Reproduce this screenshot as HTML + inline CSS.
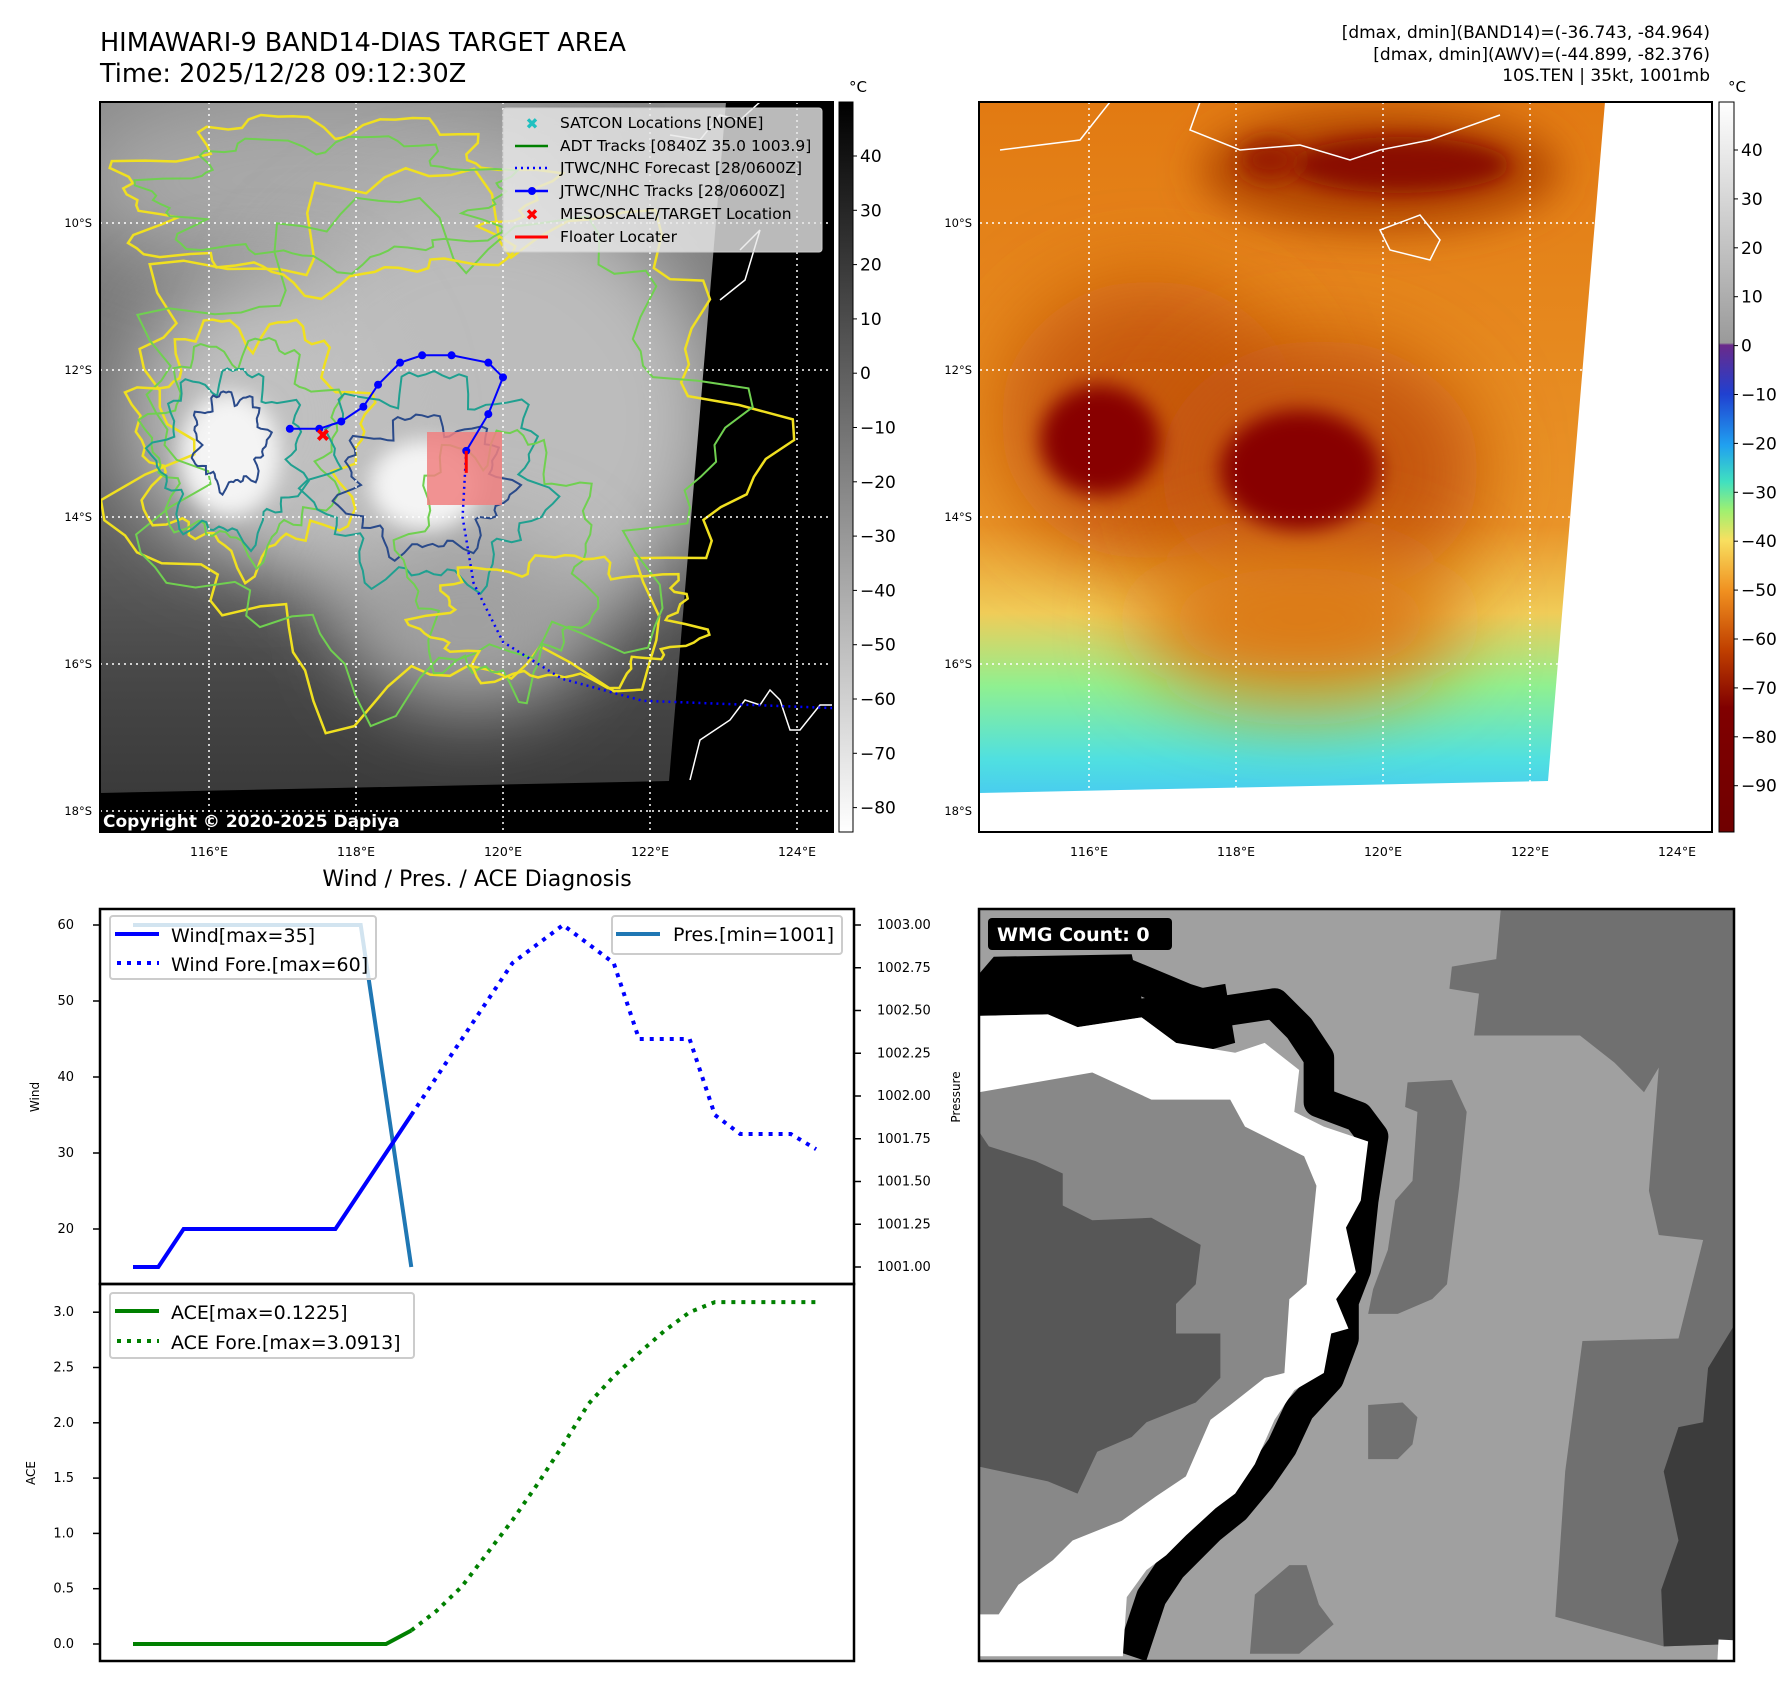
<!DOCTYPE html>
<html><head><meta charset="utf-8"><style>
html,body{margin:0;padding:0;background:#fff;}
svg{display:block;font-family:"DejaVu Sans","Liberation Sans",sans-serif;}
</style></head><body>
<svg id="root" width="1792" height="1690" viewBox="0 0 1792 1690" xmlns="http://www.w3.org/2000/svg">
<defs>
<filter id="b40" x="-50%" y="-50%" width="200%" height="200%"><feGaussianBlur stdDeviation="40"/></filter>
<filter id="b20" x="-50%" y="-50%" width="200%" height="200%"><feGaussianBlur stdDeviation="20"/></filter>
<filter id="b10" x="-50%" y="-50%" width="200%" height="200%"><feGaussianBlur stdDeviation="10"/></filter>
<clipPath id="clipL"><rect x="100" y="102" width="733" height="730"/></clipPath>
<clipPath id="clipR"><rect x="979" y="102" width="733" height="730"/></clipPath>
<clipPath id="clipW"><rect x="979" y="909" width="755" height="752"/></clipPath>
<linearGradient id="cbL" x1="0" y1="0" x2="0" y2="1"><stop offset="0" stop-color="#000"/><stop offset="1" stop-color="#fff"/></linearGradient>
<linearGradient id="cbR" x1="0" y1="0" x2="0" y2="1">
<stop offset="0" stop-color="#ffffff"/><stop offset="0.33" stop-color="#9a9a9a"/><stop offset="0.333" stop-color="#6a2a8a"/>
<stop offset="0.40" stop-color="#2040d0"/><stop offset="0.47" stop-color="#20a0f0"/><stop offset="0.52" stop-color="#40e0c0"/>
<stop offset="0.56" stop-color="#a0f070"/><stop offset="0.60" stop-color="#f8e060"/><stop offset="0.67" stop-color="#f09020"/>
<stop offset="0.75" stop-color="#c04000"/><stop offset="0.83" stop-color="#800000"/><stop offset="1" stop-color="#700000"/></linearGradient>
<linearGradient id="rBase" x1="0" y1="0" x2="0" y2="1">
<stop offset="0" stop-color="#e27a12"/><stop offset="0.58" stop-color="#e99428"/><stop offset="0.70" stop-color="#f0cc58"/>
<stop offset="0.80" stop-color="#90f090"/><stop offset="0.90" stop-color="#50e0e0"/><stop offset="1" stop-color="#40b8ff"/></linearGradient>
<linearGradient id="lBase" x1="0" y1="0" x2="0" y2="1">
<stop offset="0" stop-color="#8a8a8a"/><stop offset="0.5" stop-color="#6a6a6a"/><stop offset="0.8" stop-color="#464646"/><stop offset="1" stop-color="#363636"/></linearGradient>
</defs>

<!-- Titles -->
<text x="100" y="51" font-size="25.5">HIMAWARI-9 BAND14-DIAS TARGET AREA</text>
<text x="100" y="82" font-size="25.5">Time: 2025/12/28 09:12:30Z</text>
<g font-size="17" text-anchor="end">
<text x="1710" y="38">[dmax, dmin](BAND14)=(-36.743, -84.964)</text>
<text x="1710" y="60">[dmax, dmin](AWV)=(-44.899, -82.376)</text>
<text x="1710" y="81">10S.TEN | 35kt, 1001mb</text>
</g>

<!-- LEFT MAP -->
<g clip-path="url(#clipL)">
<rect x="100" y="102" width="733" height="730" fill="url(#lBase)"/>
<ellipse cx="330" cy="180" rx="260" ry="90" fill="#a8a8a8" filter="url(#b40)"/>
<ellipse cx="480" cy="420" rx="240" ry="230" fill="#bcbcbc" filter="url(#b40)"/>
<ellipse cx="260" cy="420" rx="130" ry="140" fill="#c0c0c0" filter="url(#b40)"/>
<ellipse cx="470" cy="620" rx="120" ry="90" fill="#a0a0a0" filter="url(#b40)"/>
<ellipse cx="230" cy="455" rx="50" ry="62" fill="#f4f4f4" filter="url(#b10)"/>
<ellipse cx="425" cy="485" rx="55" ry="45" fill="#f4f4f4" filter="url(#b10)"/>
<polygon points="726,102 833,102 833,832 100,832 100,793 669,781" fill="#000"/>
<g id="contours" fill="none" stroke-width="2"></g>
<rect x="427" y="432" width="75" height="73" fill="#f08080" opacity="0.85"/>
<g id="grid-l" stroke="#fff" stroke-width="1.5" stroke-dasharray="2,4"></g>
<path d="M690,780 L700,740 L730,720 L745,700 L760,705 L770,690 L780,700 L790,730 L800,730 L820,705 L833,705 M760,102 L740,120 L720,115 L700,140 L670,135 M740,250 L760,230 L745,280 L720,300" fill="none" stroke="#fff" stroke-width="1.5"/>
<g id="track"></g>
<text x="103" y="827" font-size="17" font-weight="bold" fill="#fff">Copyright © 2020-2025 Dapiya</text>
</g>
<rect x="100" y="102" width="733" height="730" fill="none" stroke="#000" stroke-width="2"/>
<!-- map legend -->
<g>
<rect x="503" y="108" width="319" height="144" rx="3" fill="#e8e8e8" fill-opacity="0.8" stroke="#ccc"/>
<g font-size="15.5">
<text x="532" y="129" fill="#20c0c0" text-anchor="middle" font-weight="bold">✖</text><text x="560" y="128">SATCON Locations [NONE]</text>
<line x1="515" y1="146" x2="548" y2="146" stroke="#008000" stroke-width="2.5"/><text x="560" y="151">ADT Tracks [0840Z 35.0 1003.9]</text>
<line x1="515" y1="168" x2="548" y2="168" stroke="#0000ff" stroke-width="2.5" stroke-dasharray="2,4"/><text x="560" y="173">JTWC/NHC Forecast [28/0600Z]</text>
<line x1="515" y1="191" x2="548" y2="191" stroke="#0000ff" stroke-width="2.5"/><circle cx="532" cy="191" r="4" fill="#0000ff"/><text x="560" y="196">JTWC/NHC Tracks [28/0600Z]</text>
<text x="532" y="220" fill="#ff0000" text-anchor="middle" font-weight="bold">✖</text><text x="560" y="219">MESOSCALE/TARGET Location</text>
<line x1="515" y1="237" x2="548" y2="237" stroke="#ff0000" stroke-width="3"/><text x="560" y="242">Floater Locater</text>
</g></g>
<!-- left colorbar -->
<rect x="839" y="102" width="14" height="730" fill="url(#cbL)" stroke="#000" stroke-width="1"/>
<text x="849" y="92" font-size="15">°C</text>
<g id="cbl-ticks" font-size="17"></g>

<!-- RIGHT MAP -->
<g clip-path="url(#clipR)">
<rect x="979" y="102" width="733" height="730" fill="url(#rBase)"/>
<ellipse cx="1150" cy="420" rx="150" ry="140" fill="#c85a08" filter="url(#b40)"/>
<ellipse cx="1320" cy="470" rx="160" ry="130" fill="#c45408" filter="url(#b40)"/>
<ellipse cx="1380" cy="170" rx="180" ry="60" fill="#b24606" filter="url(#b20)"/>
<ellipse cx="1300" cy="620" rx="160" ry="80" fill="#dc7a18" filter="url(#b40)"/>
<ellipse cx="1100" cy="440" rx="60" ry="55" fill="#880000" filter="url(#b10)"/>
<ellipse cx="1300" cy="470" rx="80" ry="60" fill="#880000" filter="url(#b10)"/>
<ellipse cx="1400" cy="165" rx="110" ry="28" fill="#8a0a00" filter="url(#b10)"/>
<ellipse cx="1270" cy="160" rx="30" ry="20" fill="#9a1a00" filter="url(#b10)"/>
<polygon points="1605,102 1712,102 1712,832 979,832 979,793 1548,781" fill="#fff"/>
<g id="grid-r" stroke="#fff" stroke-width="1.5" stroke-dasharray="2,4"></g>
<path d="M1110,102 L1080,140 L1000,150 M1200,102 L1190,130 L1240,150 L1300,145 L1350,160 L1380,150 L1430,140 L1500,115 M1380,230 L1420,215 L1440,240 L1430,260 L1390,250 Z" fill="none" stroke="#fff" stroke-width="1.5"/>
</g>
<rect x="979" y="102" width="733" height="730" fill="none" stroke="#000" stroke-width="2"/>
<rect x="1719" y="102" width="15" height="730" fill="url(#cbR)" stroke="#000" stroke-width="1"/>
<text x="1728" y="92" font-size="15">°C</text>
<g id="cbr-ticks" font-size="17"></g>
<g id="map-ticks" font-size="12"></g>

<!-- WIND/PRES -->
<text x="477" y="886" font-size="22" text-anchor="middle">Wind / Pres. / ACE Diagnosis</text>
<g id="windplot"></g>
<rect x="100" y="909" width="754" height="375" fill="none" stroke="#000" stroke-width="2.5"/>
<rect x="100" y="1284" width="754" height="377" fill="none" stroke="#000" stroke-width="2.5"/>
<text transform="translate(39,1097) rotate(-90)" font-size="12" text-anchor="middle">Wind</text>
<text transform="translate(35,1473) rotate(-90)" font-size="12" text-anchor="middle">ACE</text>
<text transform="translate(960,1097) rotate(-90)" font-size="12" text-anchor="middle">Pressure</text>
<g>
<rect x="110" y="916" width="266" height="63" rx="3" fill="#fff" fill-opacity="0.8" stroke="#ccc" stroke-width="2"/>
<line x1="115" y1="934" x2="159" y2="934" stroke="#0000ff" stroke-width="4"/>
<line x1="117" y1="963" x2="159" y2="963" stroke="#0000ff" stroke-width="4" stroke-dasharray="4,6"/>
<text x="171" y="942" font-size="19">Wind[max=35]</text><text x="171" y="971" font-size="19">Wind Fore.[max=60]</text>
</g>
<g>
<rect x="612" y="916" width="230" height="38" rx="3" fill="#fff" fill-opacity="0.8" stroke="#ccc" stroke-width="2"/>
<line x1="616" y1="934" x2="660" y2="934" stroke="#1f77b4" stroke-width="4"/>
<text x="673" y="941" font-size="19">Pres.[min=1001]</text>
</g>
<g>
<rect x="110" y="1293" width="304" height="65" rx="3" fill="#fff" fill-opacity="0.8" stroke="#ccc" stroke-width="2"/>
<line x1="115" y1="1311" x2="159" y2="1311" stroke="#008000" stroke-width="4"/>
<line x1="117" y1="1341" x2="159" y2="1341" stroke="#008000" stroke-width="4" stroke-dasharray="4,6"/>
<text x="171" y="1319" font-size="19">ACE[max=0.1225]</text><text x="171" y="1349" font-size="19">ACE Fore.[max=3.0913]</text>
</g>

<!-- WMG -->
<g clip-path="url(#clipW)">
<rect x="979" y="909" width="755" height="752" fill="#a0a0a0"/>
<g transform="translate(979,905) scale(0.4926)">
<polygon fill="#707070" points="1060,0 1535,0 1535,1500 1390,1505 1170,1445 1190,1150 1225,885 1420,880 1470,680 1380,670 1360,580 1380,330 1350,380 1290,320 1220,265 1005,265 1015,180 955,170 960,125 1050,110"/>
<polygon fill="#3c3c3c" points="1480,940 1535,850 1535,1500 1390,1505 1385,1390 1420,1290 1390,1150 1420,1060 1470,1050"/>
<polygon fill="#707070" points="870,360 960,355 990,420 975,570 950,770 920,800 850,830 790,830 800,780 830,700 845,600 880,560 890,420 865,410"/>
<polygon fill="#707070" points="790,1015 860,1010 890,1040 880,1095 850,1125 790,1125"/>
<polygon fill="#707070" points="560,1400 630,1340 665,1340 690,1420 720,1460 650,1520 550,1520"/>
<polyline fill="none" stroke="#000" stroke-width="62" stroke-linejoin="round" points="0,180 150,150 300,140 420,190 500,215 600,200 650,250 690,310 690,400 770,430 800,470 780,600 765,740 740,805 740,880 710,960 650,1025 615,1100 570,1165 520,1225 470,1265 430,1305 390,1345 350,1405 310,1525"/>
<polygon fill="#000" points="0,140 30,105 310,100 330,190 500,160 520,280 430,305 400,280 330,228 200,248 140,222 0,225"/>
<polygon fill="#fff" points="0,225 140,222 200,248 330,228 400,280 520,300 580,280 650,335 640,420 700,450 790,480 775,600 745,655 765,745 725,800 750,860 715,870 700,950 640,985 600,1045 560,1135 520,1195 480,1225 420,1280 380,1320 340,1350 300,1405 292,1525 0,1525"/>
<polygon fill="#888" points="0,380 230,340 350,395 510,395 540,450 660,510 685,570 665,770 630,800 620,950 580,960 510,1015 470,1045 420,1160 360,1200 290,1250 190,1290 150,1330 80,1380 40,1440 0,1440"/>
<polygon fill="#575757" points="0,460 20,490 115,520 170,545 170,610 230,640 350,635 450,690 440,770 400,810 400,870 490,870 490,960 440,1010 340,1050 310,1080 240,1110 200,1195 140,1170 0,1140"/>
</g>
<rect x="1718" y="1640" width="20" height="30" fill="#fff" transform="rotate(3 1728 1650)"/>
</g>
<rect x="979" y="909" width="755" height="752" fill="none" stroke="#000" stroke-width="2.5"/>
<g>
<rect x="988" y="918" width="184" height="32" rx="4" fill="#000"/>
<text x="997" y="941" font-size="19" font-weight="bold" fill="#fff">WMG Count: 0</text>
</g>
</svg>
<script>
// ---- chart data ----
const windIdx = [0,1,2,3,4,5,6,7,8,9,10,11];
const windVals = [15,15,20,20,20,20,20,20,20,25,30,35];
const foreIdx = [11,12,13,14,15,16,17,18,19,20,21,22,23,24,25,26,27];
const foreVals = [35,40,45,50,55,57.5,60,57.5,55,45,45,45,35,32.5,32.5,32.5,30.5];
const presIdx = [0,1,2,3,4,5,6,7,8,9,10,11];
const presVals = [1003,1003,1003,1003,1003,1003,1003,1003,1003,1003,1002,1001];
const aceIdx = [0,1,2,3,4,5,6,7,8,9,10,11];
const aceVals = [0,0,0,0,0,0,0,0,0,0,0,0.1225];
const aceForeIdx = [11,12,13,14,15,16,17,18,19,20,21,22,23,24,25,26,27];
const aceForeVals = [0.1225,0.3,0.52,0.82,1.12,1.45,1.8,2.17,2.42,2.63,2.83,3.0,3.0913,3.0913,3.0913,3.0913,3.0913];
const windTicks = [20,30,40,50,60];
const presTicks = [1001,1001.25,1001.5,1001.75,1002,1002.25,1002.5,1002.75,1003];
const aceTicks = [0,0.5,1,1.5,2,2.5,3];
const trackLon = [117.1,117.5,117.8,118.1,118.3,118.6,118.9,119.3,119.8,120.0,119.8,119.5];
const trackLat = [12.8,12.8,12.7,12.5,12.2,11.9,11.8,11.8,11.9,12.1,12.6,13.1];
const foreLon = [119.5,119.45,119.6,120.0,120.8,121.9,124.5];
const foreLat = [13.1,14.0,14.9,15.7,16.2,16.5,16.6];
const lonTicks = [116,118,120,122,124];
const latTicks = [10,12,14,16,18];
const cbLTicks = [40,30,20,10,0,-10,-20,-30,-40,-50,-60,-70,-80];
const cbRTicks = [40,30,20,10,0,-10,-20,-30,-40,-50,-60,-70,-80,-90];

const NS='http://www.w3.org/2000/svg';
function mk(tag,attrs,parent){const e=document.createElementNS(NS,tag);for(const k in attrs)e.setAttribute(k,attrs[k]);parent.appendChild(e);return e;}
const xI = i => 133 + i*25.3;
const yW = v => 1229 - (v-20)*7.6;
const yP = v => 1267 - (v-1001)*171;
const yA = v => 1644 - v*110.6;
const lonX = (lon,off) => 209 + (lon-116)*73.5 + off;
const latY = lat => 223 + (lat-10)*73.5;
const pts=(xs,ys,fx,fy)=>xs.map((x,i)=>fx(x)+','+fy(ys[i])).join(' ');

const wp=document.getElementById('windplot');
windTicks.forEach(v=>{const y=yW(v);mk('line',{x1:93,x2:100,y1:y,y2:y,stroke:'#000','stroke-width':1.5},wp);const t=mk('text',{x:74,y:y+4,'font-size':13,'text-anchor':'end'},wp);t.textContent=v;

});
presTicks.forEach(v=>{const y=yP(v);mk('line',{x1:854,x2:861,y1:y,y2:y,stroke:'#000','stroke-width':1.5},wp);const t=mk('text',{x:877,y:y+4,'font-size':13},wp);t.textContent=v.toFixed(2);

});
aceTicks.forEach(v=>{const y=yA(v);mk('line',{x1:93,x2:100,y1:y,y2:y,stroke:'#000','stroke-width':1.5},wp);const t=mk('text',{x:74,y:y+4,'font-size':13,'text-anchor':'end'},wp);t.textContent=v.toFixed(1);

});
let l;
l=mk('polyline',{points:pts(presIdx,presVals,xI,yP),fill:'none',stroke:'#1f77b4','stroke-width':4},wp);


l=mk('polyline',{points:pts(windIdx,windVals,xI,yW),fill:'none',stroke:'#0000ff','stroke-width':4},wp);


l=mk('polyline',{points:pts(foreIdx,foreVals,xI,yW),fill:'none',stroke:'#0000ff','stroke-width':4,'stroke-dasharray':'4,6'},wp);


l=mk('polyline',{points:pts(aceIdx,aceVals,xI,yA),fill:'none',stroke:'#008000','stroke-width':4},wp);


l=mk('polyline',{points:pts(aceForeIdx,aceForeVals,xI,yA),fill:'none',stroke:'#008000','stroke-width':4,'stroke-dasharray':'4,6'},wp);



const gl=document.getElementById('grid-l'), gr=document.getElementById('grid-r'), mt=document.getElementById('map-ticks');
[[gl,0],[gr,880]].forEach(([g,off])=>{
 lonTicks.forEach(lon=>{const x=lonX(lon,off);mk('line',{x1:x,x2:x,y1:102,y2:832},g);});
 latTicks.forEach(lat=>{const y=latY(lat);mk('line',{x1:100+off,x2:833+off,y1:y,y2:y},g);});
 lonTicks.forEach(lon=>{const t=mk('text',{x:lonX(lon,off),y:856,'text-anchor':'middle','font-size':12.5},mt);t.textContent=lon+'°E';
 
 });
 latTicks.forEach(lat=>{const t=mk('text',{x:92+off,y:latY(lat)+4,'text-anchor':'end','font-size':11.5},mt);t.textContent=lat+'°S';
 
 });
});
const cl=document.getElementById('cbl-ticks');
cbLTicks.forEach(v=>{const y=156+(40-v)*5.43;mk('line',{x1:853,x2:857,y1:y,y2:y,stroke:'#000'},cl);const t=mk('text',{x:860,y:y+6},cl);t.textContent=v<0?'−'+(-v):v;

});
const cr=document.getElementById('cbr-ticks');
cbRTicks.forEach(v=>{const y=150+(40-v)*4.89;mk('line',{x1:1734,x2:1738,y1:y,y2:y,stroke:'#000'},cr);const t=mk('text',{x:1741,y:y+6},cr);t.textContent=v<0?'−'+(-v):v;

});

const cg=document.getElementById('contours');
function blob(cx,cy,rx,ry,col,seed,w){let d='';const n=90;for(let i=0;i<=n;i++){const a=i/n*Math.PI*2;const r=1+0.12*Math.sin(a*7+seed)+0.08*Math.sin(a*13+seed*2)+0.05*Math.sin(a*23+seed*3);const x=cx+rx*r*Math.cos(a),y=cy+ry*r*Math.sin(a);d+=(i?'L':'M')+x.toFixed(1)+','+y.toFixed(1);}mk('path',{d:d+'Z',stroke:col,'stroke-width':w||2},cg);}
blob(440,440,300,250,'#f0e020',1,2.5);blob(430,445,275,230,'#70d050',2);
blob(250,440,110,115,'#f0e020',3,2.5);blob(245,445,90,100,'#70d050',4);blob(230,455,70,80,'#20a090',5);
blob(430,480,110,100,'#20a090',6);blob(425,485,80,65,'#2a4a8a',7);blob(230,440,35,45,'#2a4a8a',8);
blob(330,200,200,80,'#f0e020',9,2.5);blob(330,200,170,60,'#70d050',10);blob(500,560,90,120,'#70d050',11);blob(560,620,130,60,'#f0e020',12,2.5);

const tg=document.getElementById('track');
l=mk('polyline',{points:pts(foreLon,foreLat,v=>lonX(v,0),latY),fill:'none',stroke:'#0000ff','stroke-width':2.5,'stroke-dasharray':'2,4'},tg);


l=mk('polyline',{points:pts(trackLon,trackLat,v=>lonX(v,0),latY),fill:'none',stroke:'#0000ff','stroke-width':2},tg);


trackLon.forEach((lon,i)=>{const c=mk('circle',{cx:lonX(lon,0),cy:latY(trackLat[i]),r:4,fill:'#0000ff'},tg);

});
const rx=mk('text',{x:lonX(117.55,0),y:latY(12.88)+7,'text-anchor':'middle','font-size':18,'font-weight':'bold',fill:'#ff0000'},tg);rx.textContent='✖';


l=mk('line',{x1:lonX(119.5,0),x2:lonX(119.5,0),y1:latY(13.1),y2:latY(13.4),stroke:'#ff0000','stroke-width':3},tg);


</script>
</body></html>
